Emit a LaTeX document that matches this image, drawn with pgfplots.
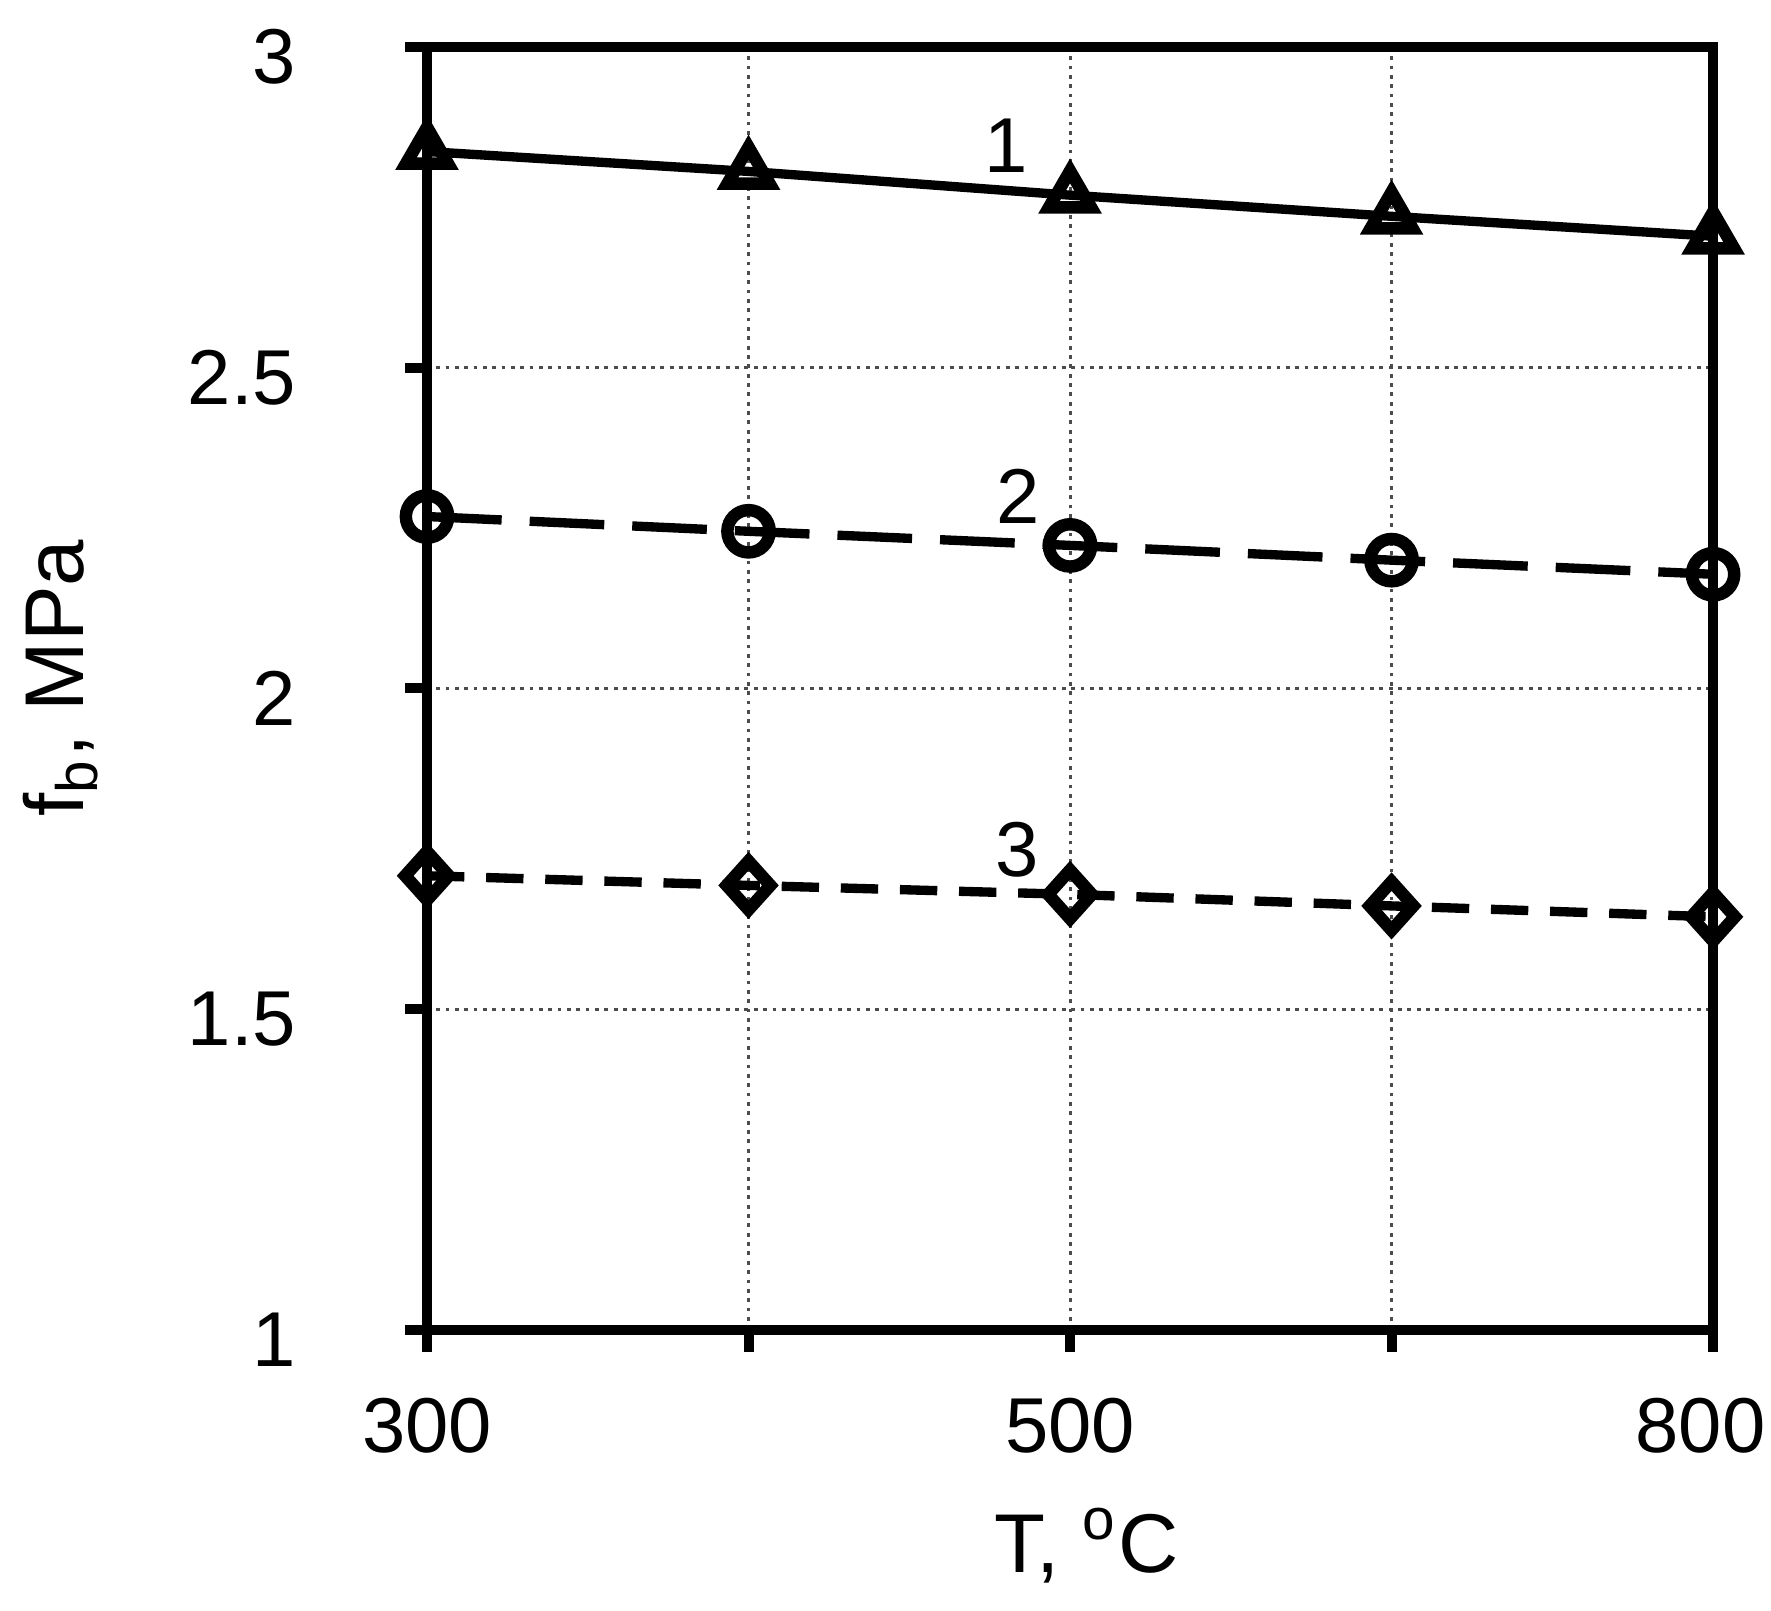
\documentclass[border=0pt]{standalone}
\usepackage{fontspec}
\setmainfont{Liberation Sans}
\usepackage{pgfplots}
\pgfplotsset{compat=1.18}
\begin{document}
\begin{tikzpicture}
\begin{axis}[
  name=ax,
  scale only axis,
  width=206.6pt, height=206.1pt,
  xmin=0, xmax=4, ymin=1, ymax=3,
  xtick={0,1,2,3,4},
  xticklabels={300,,500,,800\hspace*{4pt}},
  ytick={1,1.5,2,2.5,3},
  tick pos=left, tick align=outside,
  major tick length=3.5pt,
  tick style={black, line width=1.6pt},
  axis line style={line width=1.7pt},
  grid=major,
  major grid style={black!70, line width=0.5pt, dash pattern=on 0.6pt off 0.9pt},
  /pgf/number format/assume math mode=true,
  ticklabel style={font=\fontsize{12.5}{15}\selectfont},
  yticklabel style={xshift=-14pt, yshift=-1.6pt},
  xticklabel style={yshift=-4pt},
  xlabel={T, \textsuperscript{o}C},
  ylabel={f\textsubscript{b}, MPa},
  label style={font=\fontsize{13.4}{16}\selectfont},
  xlabel style={at={(axis description cs:0.513,-0.168)}, anchor=center},
  ylabel style={at={(axis description cs:-0.285,0.508)}, anchor=center},
  clip=false,
  every axis plot/.append style={black, line width=1.5pt},
]
% curve 1
\addplot[solid, mark=triangle, mark size=3.9pt, mark options={solid, fill=white, line width=2pt}]
  coordinates {(0,2.837) (1,2.806) (2,2.769) (3,2.736) (4,2.705)};
% curve 2
\addplot[dash pattern=on 12pt off 4.5pt, mark=o, mark size=3.4pt, mark options={solid, fill=white, line width=2pt}]
  coordinates {(0,2.268) (1,2.245) (2,2.223) (3,2.200) (4,2.178)};
% curve 3
\addplot[dash pattern=on 6pt off 3.5pt, mark=diamond, mark size=3.9pt, mark options={solid, fill=white, line width=2pt, xscale=1.2}]
  coordinates {(0,1.708) (1,1.693) (2,1.679) (3,1.661) (4,1.644)};
\node[font=\fontsize{12.5}{15}\selectfont] at (axis cs:1.80,2.846) {1};
\node[font=\fontsize{12.5}{15}\selectfont] at (axis cs:1.84,2.30) {2};
\node[font=\fontsize{12.5}{15}\selectfont] at (axis cs:1.835,1.749) {3};
\end{axis}
\pgfresetboundingbox
\path[use as bounding box] ([shift={(-68.6pt,-45.1pt)}]ax.south west) rectangle ([shift={(9.3pt,7.55pt)}]ax.north east);
\end{tikzpicture}
\end{document}
